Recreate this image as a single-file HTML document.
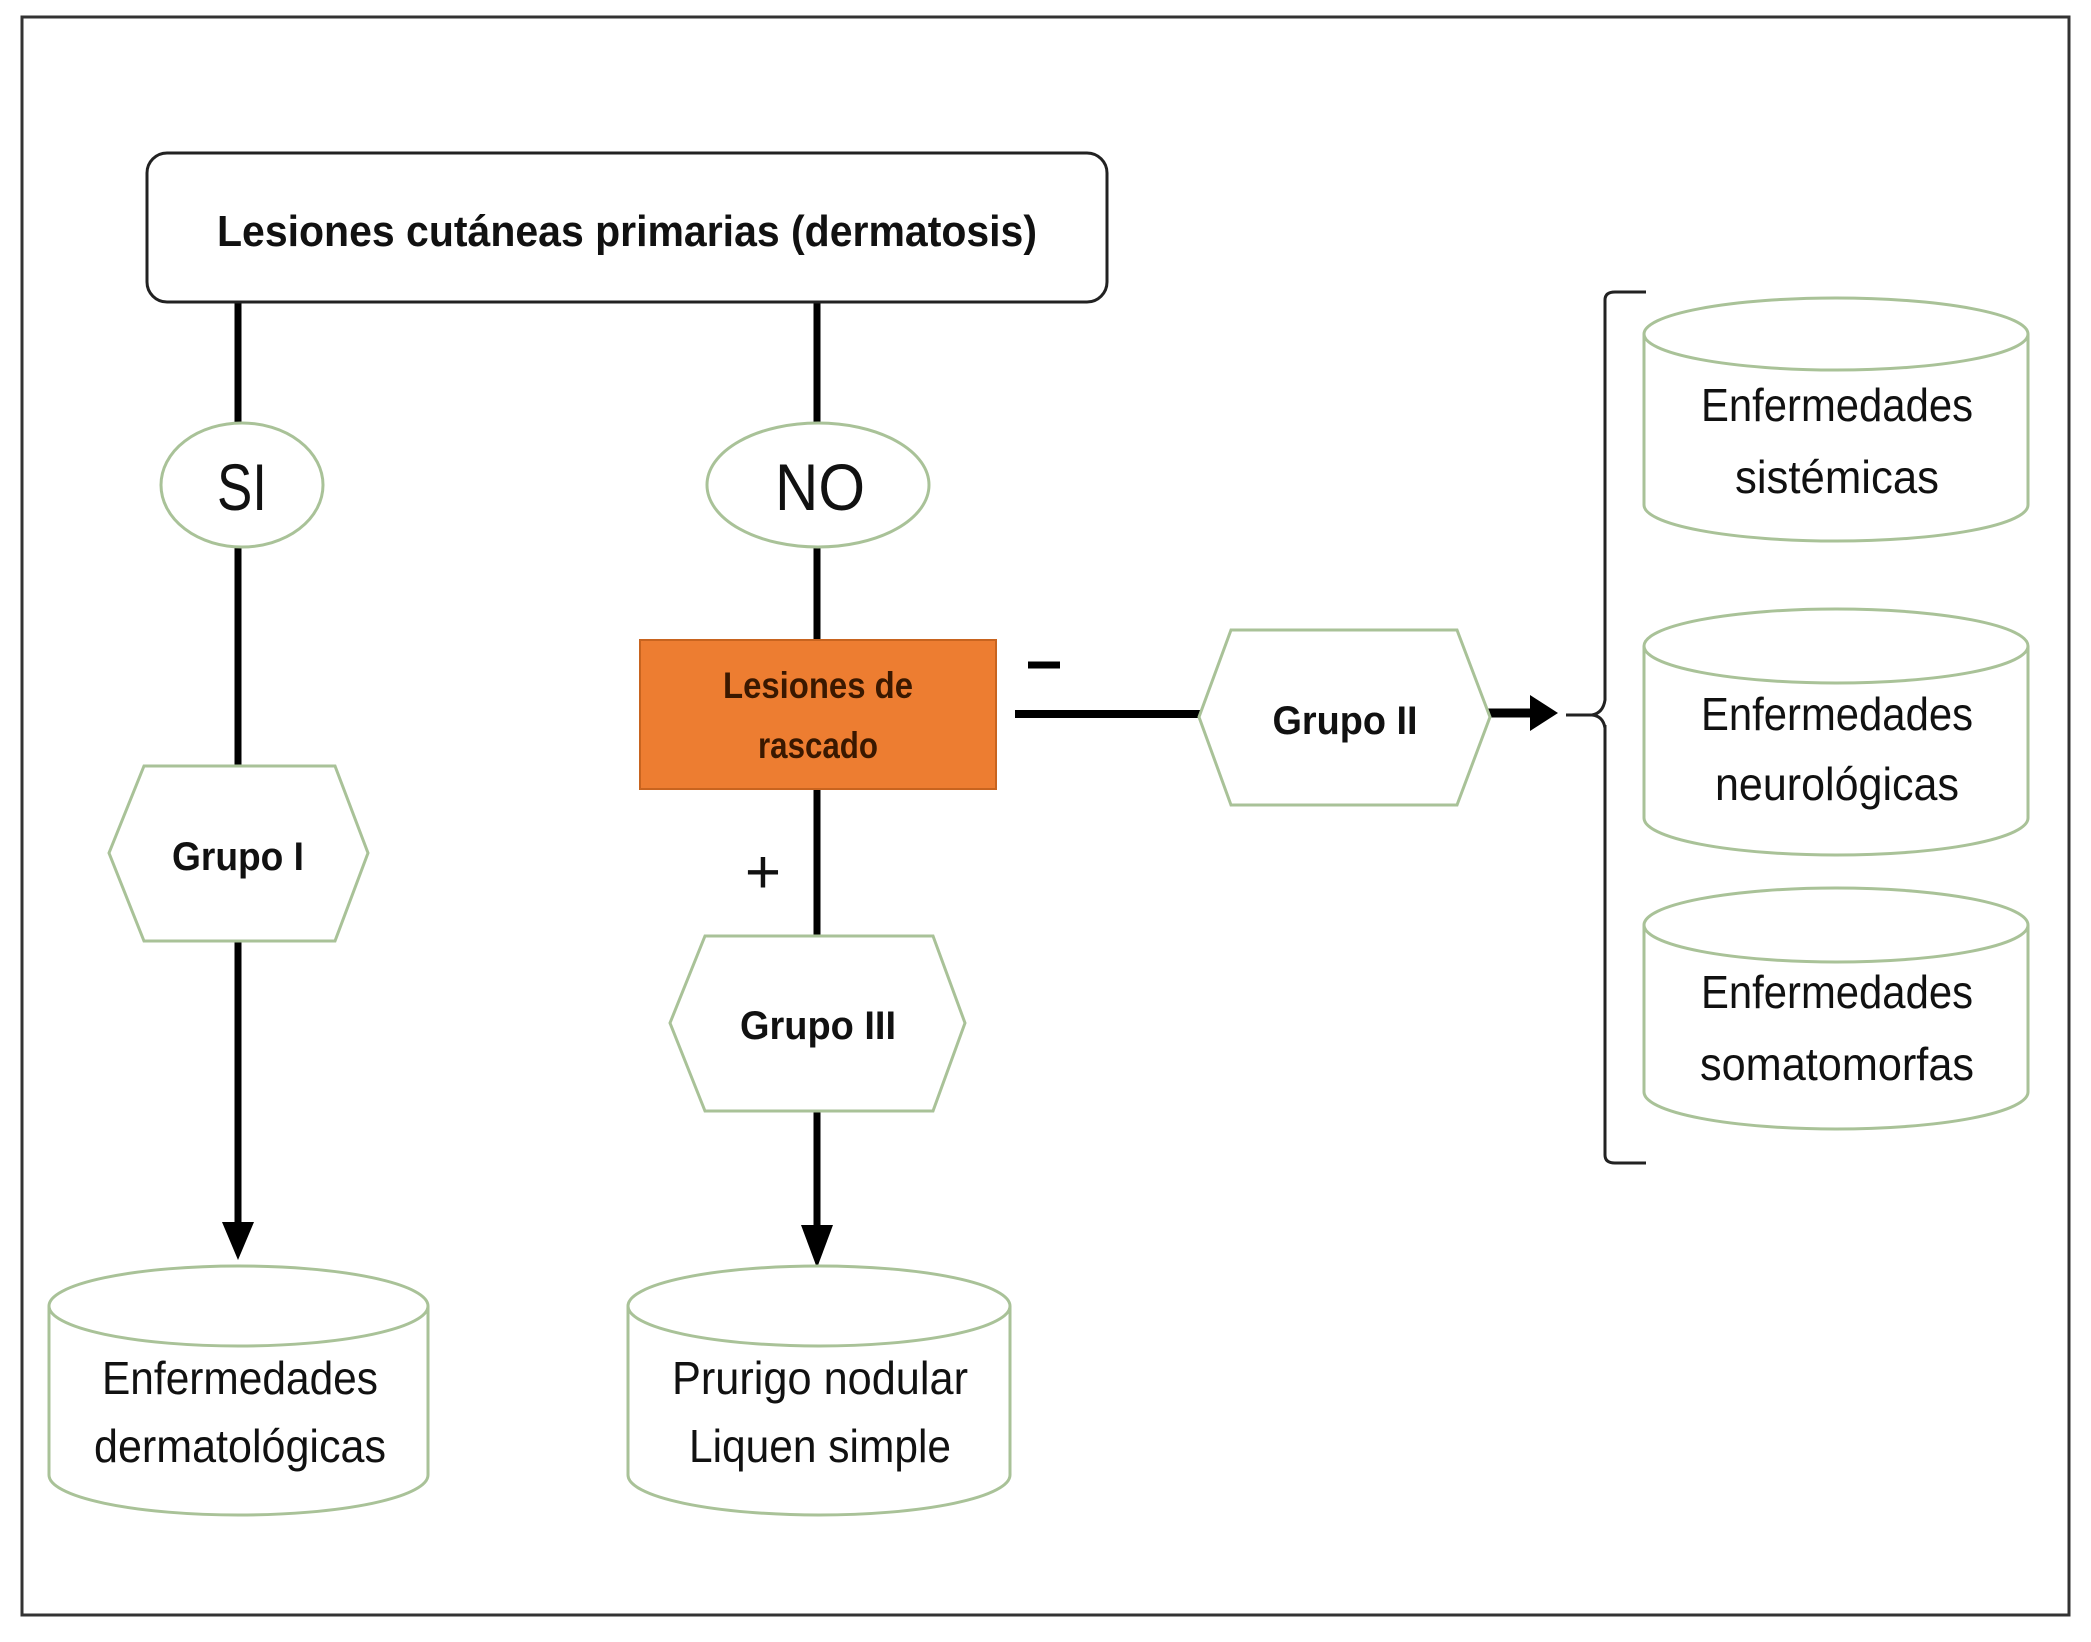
<!DOCTYPE html>
<html><head><meta charset="utf-8"><style>
html,body{margin:0;padding:0;background:#fff;}
svg{display:block;}
text{font-family:"Liberation Sans",sans-serif;fill:#111;}
</style></head><body>
<svg width="2091" height="1642" viewBox="0 0 2091 1642" xmlns="http://www.w3.org/2000/svg">
<rect x="0" y="0" width="2091" height="1642" fill="#fff"/>
<rect x="22" y="17" width="2047" height="1598" fill="none" stroke="#333" stroke-width="3"/>

<g stroke="#000" stroke-width="7" fill="none">
<line x1="238" y1="302" x2="238" y2="423"/>
<line x1="238" y1="547" x2="238" y2="765"/>
<line x1="238" y1="941" x2="238" y2="1222"/>
<line x1="817" y1="302" x2="817" y2="423"/>
<line x1="817" y1="547" x2="817" y2="639"/>
<line x1="817" y1="789" x2="817" y2="935"/>
<line x1="817" y1="1111" x2="817" y2="1225"/>
<line x1="1015" y1="714" x2="1203" y2="714" stroke-width="8"/>
<line x1="1488" y1="713" x2="1535" y2="713" stroke-width="9"/>
<line x1="1028" y1="665" x2="1060" y2="665" stroke-width="7"/>
</g>
<polygon points="222,1222 254,1222 238,1260" fill="#000"/>
<polygon points="801,1225 833,1225 817,1268" fill="#000"/>
<polygon points="1530,695 1558,713 1530,731" fill="#000"/>
<path d="M1566,715 L1592,715 Q1603,713 1605,700 L1605,300 Q1605,292 1615,292 L1646,292 M1605,725 L1605,1155 Q1605,1163 1615,1163 L1646,1163 M1592,715 Q1603,716 1605,728" fill="none" stroke="#222" stroke-width="3"/>

<rect x="147" y="153" width="960" height="149" rx="20" fill="#fff" stroke="#222" stroke-width="3"/>
<text x="627" y="246" font-size="44" font-weight="bold" text-anchor="middle" textLength="820" lengthAdjust="spacingAndGlyphs">Lesiones cutáneas primarias (dermatosis)</text>

<ellipse cx="242" cy="485" rx="81" ry="62" fill="#fff" stroke="#a9c298" stroke-width="3"/>
<text x="242" y="510" font-size="66" text-anchor="middle" textLength="50" lengthAdjust="spacingAndGlyphs">SI</text>
<ellipse cx="818" cy="485" rx="111" ry="62" fill="#fff" stroke="#a9c298" stroke-width="3"/>
<text x="820" y="510" font-size="66" text-anchor="middle" textLength="90" lengthAdjust="spacingAndGlyphs">NO</text>

<rect x="640" y="640" width="356" height="149" fill="#ED7D31" stroke="#c8641f" stroke-width="2"/>
<text x="818" y="698" font-size="37" font-weight="bold" text-anchor="middle" textLength="190" lengthAdjust="spacingAndGlyphs" style="fill:#3a1800">Lesiones de</text>
<text x="818" y="758" font-size="37" font-weight="bold" text-anchor="middle" textLength="120" lengthAdjust="spacingAndGlyphs" style="fill:#3a1800">rascado</text>

<text x="763" y="893" font-size="62" text-anchor="middle">+</text>

<g fill="#fff" stroke="#a9c298" stroke-width="3">
<polygon points="144,766 335,766 368,853 335,941 144,941 109,853"/>
<polygon points="705,936 933,936 965,1023 933,1111 705,1111 670,1023"/>
<polygon points="1231,630 1457,630 1490,717 1457,805 1231,805 1199,717"/>
</g>
<text x="238" y="870" font-size="40" font-weight="bold" text-anchor="middle" textLength="132" lengthAdjust="spacingAndGlyphs">Grupo I</text>
<text x="818" y="1039" font-size="40" font-weight="bold" text-anchor="middle" textLength="156" lengthAdjust="spacingAndGlyphs">Grupo III</text>
<text x="1345" y="734" font-size="40" font-weight="bold" text-anchor="middle" textLength="145" lengthAdjust="spacingAndGlyphs">Grupo II</text>

<g fill="#fff" stroke="#a9c298" stroke-width="3">
<path d="M49,1306 L49,1475 A189.5,40 0 0 0 428,1475 L428,1306"/>
<ellipse cx="238.5" cy="1306" rx="189.5" ry="40"/>
<path d="M628,1306 L628,1475 A191,40 0 0 0 1010,1475 L1010,1306"/>
<ellipse cx="819" cy="1306" rx="191" ry="40"/>
<path d="M1644,334 L1644,505 A192,36 0 0 0 2028,505 L2028,334"/>
<ellipse cx="1836" cy="334" rx="192" ry="36"/>
<path d="M1644,646 L1644,818 A192,37 0 0 0 2028,818 L2028,646"/>
<ellipse cx="1836" cy="646" rx="192" ry="37"/>
<path d="M1644,925 L1644,1092 A192,37 0 0 0 2028,1092 L2028,925"/>
<ellipse cx="1836" cy="925" rx="192" ry="37"/>
</g>
<g font-size="46" text-anchor="middle">
<text x="240" y="1394" textLength="276" lengthAdjust="spacingAndGlyphs">Enfermedades</text>
<text x="240" y="1462" textLength="292" lengthAdjust="spacingAndGlyphs">dermatológicas</text>
<text x="820" y="1394" textLength="296" lengthAdjust="spacingAndGlyphs">Prurigo nodular</text>
<text x="820" y="1462" textLength="262" lengthAdjust="spacingAndGlyphs">Liquen simple</text>
<text x="1837" y="421" textLength="272" lengthAdjust="spacingAndGlyphs">Enfermedades</text>
<text x="1837" y="493" textLength="204" lengthAdjust="spacingAndGlyphs">sistémicas</text>
<text x="1837" y="730" textLength="272" lengthAdjust="spacingAndGlyphs">Enfermedades</text>
<text x="1837" y="800" textLength="244" lengthAdjust="spacingAndGlyphs">neurológicas</text>
<text x="1837" y="1008" textLength="272" lengthAdjust="spacingAndGlyphs">Enfermedades</text>
<text x="1837" y="1080" textLength="274" lengthAdjust="spacingAndGlyphs">somatomorfas</text>
</g>
</svg>
</body></html>
